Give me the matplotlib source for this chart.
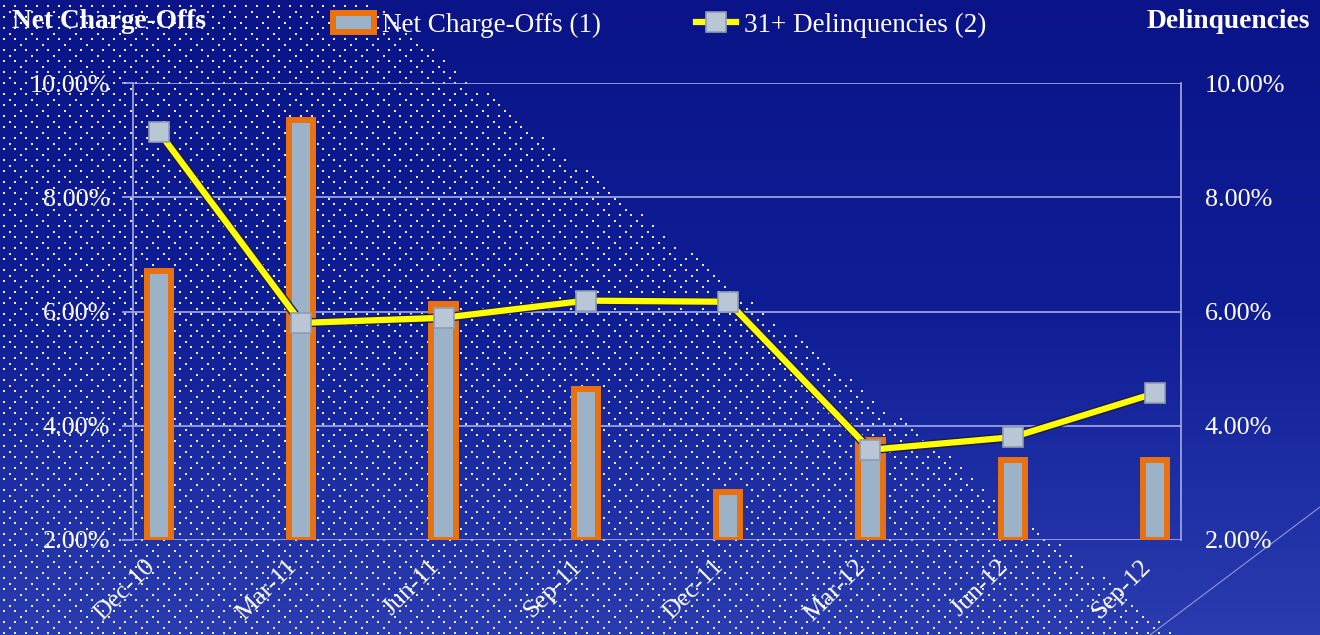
import numpy as np
import matplotlib
matplotlib.use("Agg")
import matplotlib.pyplot as plt
from matplotlib.colors import LinearSegmentedColormap

plt.rcParams['font.family'] = ['Liberation Serif', 'DejaVu Serif']

# ---------------- data ----------------
categories = ['Dec-10', 'Mar-11', 'Jun-11', 'Sep-11', 'Dec-11', 'Mar-12', 'Jun-12', 'Sep-12']
net_charge_offs = [6.71, 9.36, 6.13, 4.64, 2.84, 3.75, 3.40, 3.40]
delinquencies = [9.14, 5.80, 5.89, 6.19, 6.17, 3.58, 3.80, 4.57]
y_ticks = [2, 4, 6, 8, 10]
y_tick_labels = ['2.00%', '4.00%', '6.00%', '8.00%', '10.00%']
legend_labels = ['Net Charge-Offs (1)', '31+ Delinquencies (2)']
left_title = 'Net Charge-Offs'
right_title = 'Delinquencies'

W, H = 1320, 635
fig = plt.figure(figsize=(W / 100, H / 100), dpi=100)

# ---------------- background ----------------
bg = fig.add_axes([0, 0, 1, 1], zorder=-10)
bg.set_xlim(0, W)
bg.set_ylim(H, 0)
bg.axis('off')
grad = np.linspace(0, 1, 256)[:, None]
cmap = LinearSegmentedColormap.from_list('bg', ['#0a1488', '#101e96', '#2a3cb0'])
bg.imshow(grad, aspect='auto', cmap=cmap, extent=[0, W, H, 0])

# dotted triangle pattern (decoration)
step = 11.0
xs = np.arange(4, W, step)
ys = np.arange(6, H, step)
X, Y = np.meshgrid(xs, ys)
I, J = np.meshgrid(np.arange(len(xs)), np.arange(len(ys)))
Xo = X + step / 2
Yo = Y + step / 2
sel = (I + J) % 2 == 0
px = np.concatenate([X.ravel(), Xo[sel]])
py = np.concatenate([Y.ravel(), Yo[sel]])
mask = px < 370 + 1.27 * py
bg.scatter(px[mask], py[mask], s=3.8, c='#e8ecff', linewidths=0, marker='s')
bg.plot([1150, 1320], [635, 507], color='#8a98d8', lw=0.8)

# ---------------- main axes ----------------
ax = fig.add_axes([133 / W, 1 - 540 / H, (1181 - 133) / W, (540 - 83) / H])
ax.set_facecolor('none')
x = np.arange(len(categories))
ax.set_xlim(-0.183, len(categories) - 1 + 0.183)
ax.set_ylim(2, 10)

grid_col = '#a6aae6'
bars = ax.bar(x, np.array(net_charge_offs) - 2, bottom=2, width=0.17,
              color='#9cb2c8', edgecolor='#ea720e', linewidth=4.3, zorder=3)

ax.set_yticks(y_ticks)
ax.set_yticklabels(y_tick_labels)
ax.grid(axis='y', color=grid_col, lw=1.2, zorder=1)
ax.set_axisbelow(True)
ax.tick_params(axis='y', colors=grid_col, length=8, width=1.2, pad=8.5,
               labelsize=18.8, labelcolor='white', direction='out')
ax.set_xticks(x)
ax.set_xticklabels(categories, rotation=45, ha='right', va='top')
ax.tick_params(axis='x', length=0, pad=11, labelsize=18.5, labelcolor='white')
for s in ['left', 'right']:
    ax.spines[s].set_color(grid_col)
    ax.spines[s].set_linewidth(1.2)
for s in ['top', 'bottom']:
    ax.spines[s].set_visible(False)

ax2 = ax.twinx()
ax2.set_ylim(2, 10)
ax2.set_yticks(y_ticks)
ax2.set_yticklabels(y_tick_labels)
ax2.tick_params(axis='y', length=0, pad=17, labelsize=18.8, labelcolor='white')
for s in ax2.spines.values():
    s.set_visible(False)
# thin dark shadow under the yellow line
ax2.plot(x, delinquencies, color='#1a1a50', lw=6.5, zorder=4, solid_capstyle='round')
line, = ax2.plot(x, delinquencies, color='#ffff00', lw=4.5, marker='s', ms=14,
                 mfc='#b8c6d6', mec='#8e9cb0', mew=1.2, zorder=5)

# ---------------- titles & legend ----------------
fig.text(12 / W, 1 - 22 / H, left_title, fontsize=19.7, fontweight='bold', color='white',
         ha='left', va='center')
fig.text(1310 / W, 1 - 22 / H, right_title, fontsize=19.8, fontweight='bold', color='white',
         ha='right', va='center')

fig.legend(handles=[bars, line], labels=legend_labels, loc='center left',
           bbox_to_anchor=(333 / W, 1 - 25 / H), ncol=2, frameon=False,
           fontsize=19.5, handlelength=1.5, handletextpad=0.3, columnspacing=3.5,
           borderpad=0, borderaxespad=0, labelcolor='white')

fig.savefig('out.png', dpi=100)
